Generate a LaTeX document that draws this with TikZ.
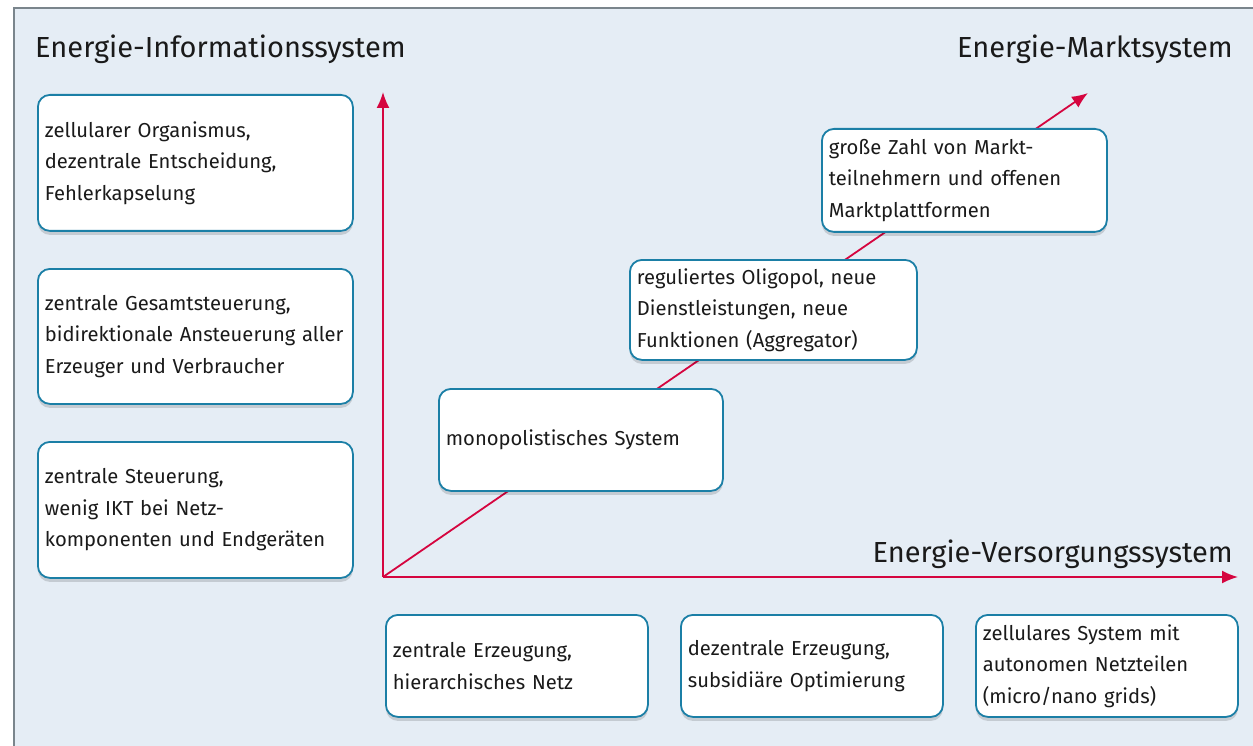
\documentclass[tikz,border=0pt]{standalone}
\usepackage{fontspec}
\setmainfont{Fira Sans}
\usetikzlibrary{arrows.meta,shadows}
\definecolor{bgblue}{HTML}{E5EDF5}
\definecolor{framegray}{HTML}{7A858C}
\definecolor{boxblue}{HTML}{1B7FA6}
\definecolor{axisred}{HTML}{D5053F}
\definecolor{txt}{HTML}{1A1A1A}
\begin{document}
\begin{tikzpicture}[x=1pt,y=-1pt,
  box/.style n args={2}{draw=boxblue, line width=1.8pt, fill=white, rounded corners=12pt,
    drop shadow={shadow xshift=0pt, shadow yshift=-4pt, opacity=0.14, fill=black},
    inner xsep=7pt, inner ysep=0pt, align=left,
    font=\fontsize{20.2}{31.5}\selectfont, text=txt, anchor=north west,
    text width=#1-14pt, minimum height=#2},
  title/.style={font=\fontsize{29}{34}\selectfont, text=txt, inner sep=0pt},
  axis/.style={draw=axisred, line width=1.8pt, -{Latex[length=16pt,width=13pt]}},
]
\useasboundingbox (0,0) rectangle (1253,746);
\fill[white] (0,0) rectangle (1253,746);
\fill[bgblue] (14,8) rectangle (1253,746);
\draw[framegray, line width=1.5pt] (14,746) -- (14,8) -- (1253,8);

% titles
\node[title, anchor=base west] (tInfo) at (35,58) {Energie-Informationssystem};
\node[title, anchor=base east] (tMarkt) at (1233,58) {Energie-Marktsystem};
\node[title, anchor=base east] (tVers) at (1233,562) {Energie-Versorgungssystem};

% axes
\coordinate (O) at (383,577);
\coordinate (yTip) at (383,92);
\coordinate (xTip) at (1238,577);
\coordinate (dTip) at (1088,93);
\draw[axis] (O) -- (yTip);
\draw[axis] (O) -- (xTip);
\draw[axis] (O) -- (dTip);

% left boxes
\node[box={315pt}{136pt}] (L1) at (37,94) {zellularer Organismus,\\dezentrale Entscheidung,\\Fehlerkapselung};
\node[box={315pt}{135pt}] (L2) at (37,268) {zentrale Gesamtsteuerung,\\bidirektionale Ansteuerung aller\\Erzeuger und Verbraucher};
\node[box={315pt}{136pt}] (L3) at (37,441) {zentrale Steuerung,\\wenig IKT bei Netz-\\komponenten und Endger\"aten};

% diagonal boxes
\node[box={284pt}{102pt}] (M1) at (438,388) {monopolistisches System};
\node[box={287pt}{100pt}] (M2) at (629,259) {reguliertes Oligopol, neue\\Dienstleistungen, neue\\Funktionen (Aggregator)};
\node[box={285pt}{103pt}] (M3) at (821,128) {gro\ss e Zahl von Markt-\\teilnehmern und offenen\\Marktplattformen};

% bottom boxes
\node[box={262pt}{102pt}] (B1) at (385,614) {zentrale Erzeugung,\\hierarchisches Netz};
\node[box={262pt}{102pt}] (B2) at (680,614) {dezentrale Erzeugung,\\subsidi\"are Optimierung};
\node[box={262pt}{102pt}] (B3) at (975,614) {zellulares System mit\\autonomen Netzteilen\\(micro/nano grids)};
\end{tikzpicture}
\end{document}
